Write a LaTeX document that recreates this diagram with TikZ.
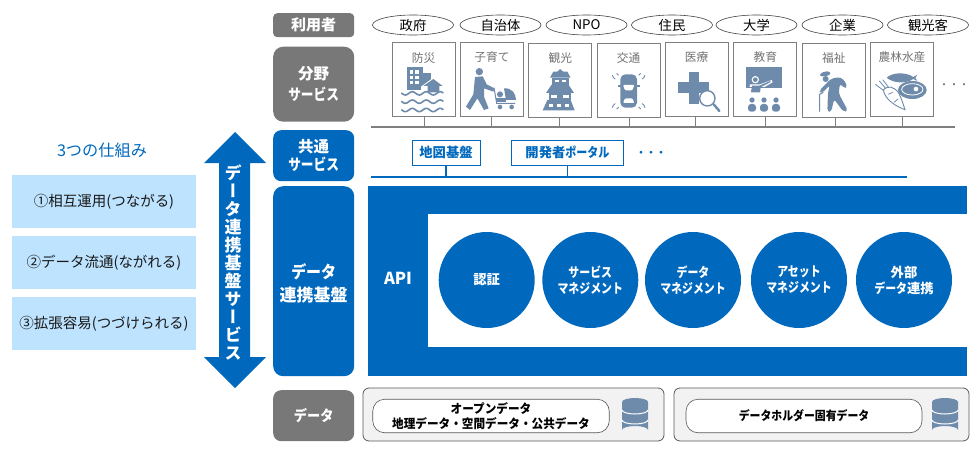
\documentclass[tikz,border=0pt]{standalone}
\usepackage{fontspec}
\setmainfont{Noto Sans CJK JP}
\newfontfamily\cjkv[RawFeature={+vert}]{Noto Sans CJK JP}
\usetikzlibrary{shapes.geometric}
\definecolor{bl}{HTML}{0069BD}
\definecolor{lb}{HTML}{BDE3FF}
\definecolor{gy}{HTML}{787878}
\definecolor{ic}{HTML}{6F8BAB}
\definecolor{ln}{HTML}{7F7F7F}
\newcommand{\kn}[2][.85]{\scalebox{#1}[1]{#2}}
\newcommand{\dn}[1]{\raisebox{-2pt}[\height][\depth]{#1}}
\tikzset{
 lab/.style={fill=#1,rounded corners=8pt,text=white,font=\bfseries\fontsize{15.5}{18}\selectfont,align=center,inner sep=0,anchor=north west},
 who/.style={ellipse,draw=black!75,line width=.6pt,minimum width=81pt,minimum height=20pt,inner sep=0,font=\fontsize{13.3}{14}\selectfont},
 fld/.style={draw=ln,line width=1pt,fill=white,minimum width=63pt,minimum height=74pt,inner sep=0},
 ftx/.style={font=\fontsize{11.7}{14}\selectfont,text=black!55},
 three/.style={fill=lb,minimum width=184pt,minimum height=53pt,inner sep=0,font=\fontsize{14.5}{17}\selectfont,text=black!90},
 circ/.style={circle,fill=bl,minimum size=96pt,inner sep=0,text=white,align=center,font=\bfseries\fontsize{13.3}{16}\selectfont},
 svc/.style={draw=bl,line width=1pt,fill=white,text=bl,inner sep=0,font=\bfseries\fontsize{13.3}{15}\selectfont},
 dbx/.style={draw=black!65,line width=.8pt,fill=black!5,rounded corners=6pt,inner sep=0},
 dpl/.style={draw=black!65,line width=.6pt,fill=white,rounded corners=12pt,inner sep=0,align=center,font=\bfseries\fontsize{12.5}{15}\selectfont},
 zoomA/.style={shift={(360,5)},x=.33333pt,y=-.33333pt},
 zoomB/.style={shift={(670,5)},x=.33333pt,y=-.33333pt},
}
\newcommand{\dbicon}[2]{%
 \fill[ic] (#1-13,#2-14) -- (#1+13,#2-14) -- (#1+13,#2+14) arc[start angle=0,end angle=-180,x radius=13,y radius=4] -- cycle;
 \fill[ic] (#1,#2-14) ellipse[x radius=13,y radius=4];
 \draw[white,line width=1pt] (#1-13,#2-6) arc[start angle=180,end angle=360,x radius=13,y radius=-4];
 \draw[white,line width=1pt] (#1-13,#2+4) arc[start angle=180,end angle=360,x radius=13,y radius=-4];
}
\begin{document}
\begin{tikzpicture}[x=1pt,y=-1pt]
\useasboundingbox (0,0) rectangle (980,455);
% left
\node[text=bl,font=\fontsize{16.2}{17}\selectfont] (t3) at (102,150) {3つの仕組み};
\node[three] (a1) at (104,201.5) {①相互運用(つながる)};
\node[three] (a2) at (104,262.5) {②データ流通(ながれる)};
\node[three] (a3) at (104,323.5) {③拡張容易(つづけられる)};
% arrow
\fill[bl] (235,132) -- (266,163) -- (250,163) -- (250,357) -- (266,357) -- (235,388) -- (204,357) -- (219,357) -- (219,163) -- (204,163) -- cycle;
\node[text=white,align=center,inner sep=0,font=\cjkv\bfseries\fontsize{17}{18}\selectfont] (v) at (233,263) {デ\\ー\\タ\\連\\携\\基\\盤\\サ\\ー\\ビ\\ス};
% row labels
\node[lab=gy,minimum width=81pt,minimum height=24pt,rounded corners=4pt,font=\bfseries\fontsize{15}{16}\selectfont] (r1) at (273,13) {利用者};
\node[lab=gy,minimum width=81pt,minimum height=75pt,rounded corners=10pt,font=\bfseries\fontsize{15.5}{21}\selectfont] (r2) at (273,46.5) {分野\\\kn[.82]{サービス}};
\node[lab=bl,minimum width=81pt,minimum height=51pt] (r3) at (273,130) {共通\\\kn[.82]{サービス}};
\node[lab=bl,minimum width=81pt,minimum height=190pt,rounded corners=10pt,font=\bfseries\fontsize{17}{22.5}\selectfont] (r4) at (273,186) {\dn{\kn[.88]{データ}}\\\dn{連携基盤}};
\node[lab=gy,minimum width=81pt,minimum height=51pt,font=\bfseries\fontsize{15}{17}\selectfont] (r5) at (273,390) {\kn[.88]{データ}};
% users
\foreach \n/\cx/\t in {u1/413/政府,u2/500.5/自治体,u3/586.5/NPO,u4/672/住民,u5/756.5/大学,u6/842.5/企業,u7/928/観光客}
  \node[who] (\n) at (\cx,25) {\t};
% bus
\coordinate (busL) at (371,127); \coordinate (busR) at (955,127);
\draw[ln,line width=1.2pt] (busL) -- (busR);
% fields
\foreach \n/\cx/\cy/\lx/\t in {f1/423.5/79.7/424/防災,f2/492/79/491/子育て,f3/560.3/80/559.5/観光,f4/628.5/80/629/交通,f5/696.5/79/695/医療,f6/765.3/79/765/教育,f7/833.8/80/835/福祉,f8/902/79/902.5/農林水産}{
  \node[fld] (\n) at (\cx,\cy) {};
  \node[ftx] at (\cx,\cy-22) {\t};
  \draw[ln,line width=.8pt] (\n.south-|{(\lx,0)}) -- (\lx,127);
}
\node[text=black!60,font=\fontsize{10}{10}\selectfont] (dots1) at (954,86) {・・・};
% --- icons, in zoom coordinates ---
\begin{scope}[zoomA,ic]
 % bousai
 \fill (140,187) rectangle (190,255); \fill (190,205) rectangle (212,255);
 \foreach \wx in {150,166}\foreach \wy in {196,212,228}\fill[white] (\wx,\wy) rectangle +(10,10);
 \fill[white] (183,245) -- (220,218) -- (255,245) -- (255,272) -- (183,272) -- cycle;
 \fill (190,243) -- (220,222) -- (248,243) -- (238,243) -- (238,262) -- (203,262) -- (203,243) -- cycle;
 \foreach \wy in {265,290,315}
  \draw[line width=1.6pt,domain=124:250,samples=40,smooth] plot (\x,{\wy+5*sin(\x*8.6)});
 % kosodate
 \fill (358,200) circle[radius=11];
 \fill (345,216) -- (368,214) -- (380,238) -- (403,250) -- (400,260) -- (372,250) -- (372,275) -- (386,310) -- (372,315) -- (352,280) -- (330,315) -- (318,305) -- (340,268) -- cycle;
 \draw[line width=1pt] (402,248) -- (410,295) -- (465,295);
 \fill (432,250) .. controls (455,248) and (468,265) .. (468,285) -- (438,285) -- cycle;
 \fill (420,268) circle[radius=9];
 \fill (408,280) rectangle (438,292);
 \fill (420,306) circle[radius=7]; \fill (455,306) circle[radius=7];
 % castle
 \fill (570,218) -- (632,218) -- (622,200) -- (580,200) -- cycle;
 \fill (590,202) -- (600,192) -- (612,202) -- cycle;
 \fill (576,218) rectangle (626,240);
 \fill[white] (584,224) rectangle (596,231); \fill[white] (606,224) rectangle (618,231);
 \fill (558,264) -- (642,264) -- (626,240) -- (574,240) -- cycle;
 \fill (566,264) rectangle (634,285);
 \fill[white] (574,270) rectangle (590,278); \fill[white] (610,270) rectangle (626,278);
 \fill (548,316) -- (644,316) -- (632,285) -- (562,285) -- cycle;
 \fill[white] (566,298) rectangle (578,306); \fill[white] (590,298) rectangle (602,306); \fill[white] (614,298) rectangle (626,306);
 % car
 \fill[rounded corners=5pt] (781,208) rectangle (831,308);
 \fill[white,rounded corners=1pt] (789,240) -- (823,240) -- (817,256) -- (795,256) -- cycle;
 \fill[white,rounded corners=1pt] (795,280) -- (817,280) -- (823,294) -- (789,294) -- cycle;
 \fill (773,240) rectangle (782,245); \fill (830,240) rectangle (839,245);
 \draw[line width=.9pt] (757,210) arc[start angle=170,end angle=120,radius=18];
 \draw[line width=.9pt] (770,205) arc[start angle=160,end angle=110,radius=10];
 \draw[line width=.9pt] (855,210) arc[start angle=10,end angle=60,radius=18];
 \draw[line width=.9pt] (842,205) arc[start angle=20,end angle=70,radius=10];
 \draw[line width=.9pt] (757,308) arc[start angle=190,end angle=240,radius=18];
 \draw[line width=.9pt] (770,312) arc[start angle=200,end angle=250,radius=10];
 \draw[line width=.9pt] (855,308) arc[start angle=-10,end angle=-60,radius=18];
 \draw[line width=.9pt] (842,312) arc[start angle=-20,end angle=-70,radius=10];
\end{scope}
\begin{scope}[zoomB,ic]
 % medical
 \fill (58,200) rectangle (88,298); \fill (25,232) rectangle (118,265);
 \draw[line width=1.4pt,fill=white] (112,280) circle[radius=23];
 \draw[line width=2.4pt,line cap=round] (131,298) -- (148,318);
 % education
 \fill (228,187) rectangle (335,245);
 \fill[white] (256,224) circle[radius=11];
 \fill (256,224) circle[radius=7];
 \fill[white] (236,262) -- (240,238) -- (270,238) -- (305,225) -- (308,232) -- (276,250) -- (274,262) -- cycle;
 \fill (243,262) -- (246,242) -- (268,242) -- (300,228) -- (302,231) -- (272,247) -- (270,262) -- cycle;
 \fill (228,245) rectangle (335,248);
 \foreach \ax in {246,282,318}{
  \fill (\ax,285) circle[radius=8];
  \fill[rounded corners=3pt] (\ax-12,320) -- (\ax-12,297) -- (\ax+12,297) -- (\ax+12,320) -- cycle;
 }
 % welfare
 \fill[rounded corners=3pt] (450,204) -- (478,197) -- (483,210) -- (450,216) -- cycle;
 \fill (467,222) circle[radius=9];
 \fill[rounded corners=3pt] (482,222) -- (505,216) -- (520,222) -- (533,245) -- (522,250) -- (510,235) -- (506,265) -- (534,318) -- (520,320) -- (492,282) -- (484,320) -- (472,320) -- (474,262) -- (480,240) -- (455,265) -- (447,258) -- cycle;
 \draw[line width=1pt] (460,262) -- (449,268) -- (449,320);
 % agriculture
 \fill (650,218) .. controls (670,200) and (710,202) .. (730,216) -- (742,209) -- (736,219) -- (742,228) -- (730,222) .. controls (710,236) and (670,236) .. (650,218) -- cycle;
 \fill (727,255) ellipse[x radius=43,y radius=27];
 \draw[white,line width=.8pt] (727,253) ellipse[x radius=32,y radius=17];
 \fill[white] (738,252) circle[radius=7];
 \draw[line width=.9pt,fill=white] (640,255) .. controls (655,240) and (670,245) .. (685,262) .. controls (695,280) and (700,300) .. (705,314) .. controls (680,305) and (645,285) .. (640,255) -- cycle;
 \draw[line width=.8pt] (628,228) -- (647,250) (616,238) -- (640,256) (638,224) -- (655,246) (655,268) -- (668,262) (672,292) -- (684,282);
\end{scope}
% common
\node[svc,minimum width=68pt,minimum height=25pt] (s1) at (446,152.5) {地図基盤};
\node[svc,minimum width=112pt,minimum height=25pt] (s2) at (567.5,152.5) {開発者\kn[.83]{ポータル}};
\node[text=bl,font=\bfseries\fontsize{10}{12}\selectfont] (dots2) at (651,153.5) {・・・};
\coordinate (cL) at (371,177); \coordinate (cR) at (907,177);
\draw[bl,line width=1.2pt] (cL) -- (cR);
\draw[bl,line width=1.2pt] (s1.south) -- (s1.south|-cL);
\draw[bl,line width=1.2pt] (s2.south) -- (s2.south|-cL);
% platform
\fill[bl] (367.5,186) rectangle (967,375.5);
\fill[white] (428,214) rectangle (968,347);
\node[text=white,font=\bfseries\fontsize{16.5}{18}\selectfont] (api) at (398,278.5) {API};
\foreach \n/\cx/\t in {c1/486.7/認証,c2/590.3/\kn[.82]{サービス}\\\kn[.82]{マネジメント},c3/693/\kn[.82]{データ}\\\kn[.82]{マネジメント},c4/799/\kn[.82]{アセット}\\\kn[.82]{マネジメント},c5/904/外部\\\kn[.82]{データ}連携}
  \node[circ] (\n) at (\cx,280) {\t};
% data
\node[dbx,minimum width=301pt,minimum height=53pt] (d1) at (513.5,414.5) {};
\node[dbx,minimum width=295pt,minimum height=53pt] (d2) at (821.5,414.5) {};
\node[dpl,minimum width=236.5pt,minimum height=33.5pt] (p1) at (491,416) {\kn[.93]{オープンデータ}\\\kn[.93]{地理データ・空間データ・公共データ}};
\node[dpl,minimum width=236pt,minimum height=33.5pt] (p2) at (804,416) {\kn[.87]{データホルダー固有データ}};
\dbicon{635}{416}
\dbicon{945}{416}
\end{tikzpicture}
\end{document}
